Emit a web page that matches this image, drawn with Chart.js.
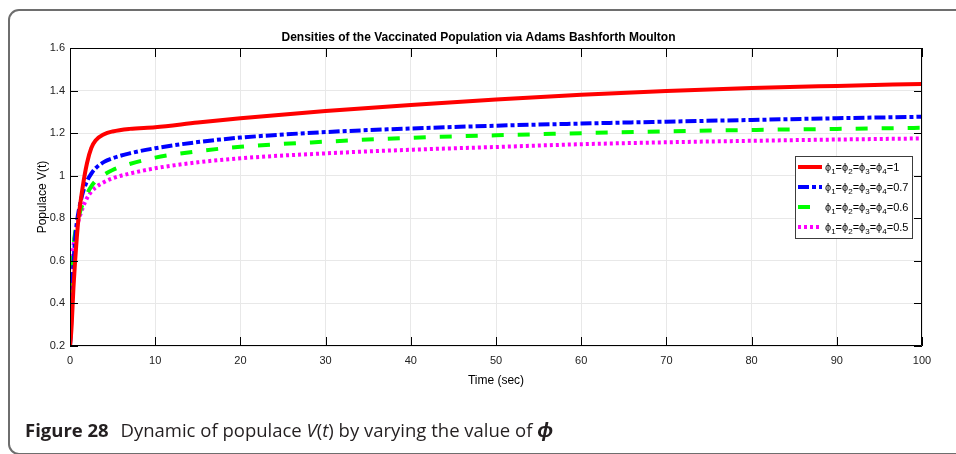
<!DOCTYPE html>
<html>
<head>
<meta charset="utf-8">
<script src="https://cdn.jsdelivr.net/npm/chart.js@4.4.1/dist/chart.umd.min.js"></script>
<style>
  html, body { margin: 0; padding: 0; background: #fff; }
  #page { position: relative; width: 956px; height: 454px; overflow: hidden; }
  #frame {
    position: absolute; left: 8px; top: 9px; width: 1000px; height: 446px;
    border: 2px solid #6e6e6e; border-radius: 11px; box-sizing: border-box;
  }
  #chart { position: absolute; left: 0; top: 0; }
  #caption {
    position: absolute; left: 25px; top: 415px; white-space: nowrap;
    font-family: "Open Sans", sans-serif; font-size: 18.5px; color: #231f20;
  }
  #caption b { font-weight: 700; margin-right: 7px; }
  #caption i { font-style: italic; }
  #caption .phi { font-style: italic; font-weight: 700; font-size: 21px; }
</style>
</head>
<body>
<div id="page">
  <div id="frame"></div>
  <canvas id="chart" width="956" height="454"></canvas>
  <div id="caption"><b>Figure 28</b> Dynamic of populace <i>V</i>(<i>t</i>) by varying the value of <span class="phi">ϕ</span></div>
</div>
<script>
// Time points (sec)
const timeSec = [0, 0.1, 0.2, 0.4, 0.6, 0.8, 1, 1.5, 2, 2.5, 3, 4, 5, 7, 10, 15, 20, 30, 40, 50, 60, 70, 80, 90, 100];

// V(t) for each phi value
const vPhi1  = [0.2, 0.24, 0.3, 0.47, 0.6, 0.71, 0.8, 0.95, 1.06, 1.13, 1.165, 1.195, 1.208, 1.22, 1.228, 1.25, 1.27, 1.304, 1.332, 1.358, 1.38, 1.398, 1.412, 1.422, 1.431];
const vPhi07 = [0.2, 0.27, 0.39, 0.58, 0.7, 0.78, 0.83, 0.92, 0.975, 1.01, 1.035, 1.065, 1.082, 1.105, 1.129, 1.158, 1.179, 1.205, 1.222, 1.235, 1.245, 1.254, 1.262, 1.27, 1.277];
const vPhi06 = [0.2, 0.36, 0.5, 0.66, 0.73, 0.77, 0.805, 0.87, 0.915, 0.95, 0.975, 1.005, 1.027, 1.055, 1.085, 1.115, 1.136, 1.16, 1.178, 1.19, 1.2, 1.208, 1.215, 1.22, 1.225];
const vPhi05 = [0.25, 0.55, 0.6, 0.667, 0.72, 0.76, 0.79, 0.85, 0.895, 0.925, 0.945, 0.97, 0.988, 1.01, 1.035, 1.063, 1.082, 1.105, 1.122, 1.135, 1.148, 1.157, 1.164, 1.17, 1.175];

const phiValues = ['1', '0.7', '0.6', '0.5'];
const xTicks = [0, 10, 20, 30, 40, 50, 60, 70, 80, 90, 100];
const yTicks = [0.2, 0.4, 0.6, 0.8, 1, 1.2, 1.4, 1.6];

function toPoints(vals) {
    return vals.map((v, i) => ({ x: timeSec[i], y: v }));
}

// MATLAB style: box on, ticks pointing inward on all four sides
const boxTicks = {
    id: 'boxTicks',
    afterDraw(chart) {
        const { ctx, chartArea: a, scales } = chart;
        ctx.save();
        ctx.strokeStyle = '#000';
        ctx.lineWidth = 1;
        ctx.beginPath();
        ctx.rect(a.left + 0.5, a.top + 0.5, a.right - a.left - 1, a.bottom - a.top - 1);
        xTicks.forEach(t => {
            const x = Math.round(scales.x.getPixelForValue(t)) + 0.5;
            ctx.moveTo(x, a.bottom); ctx.lineTo(x, a.bottom - 9);
            ctx.moveTo(x, a.top); ctx.lineTo(x, a.top + 9);
        });
        yTicks.forEach(t => {
            const y = Math.round(scales.y.getPixelForValue(t)) + 0.5;
            ctx.moveTo(a.left, y); ctx.lineTo(a.left + 8, y);
            ctx.moveTo(a.right, y); ctx.lineTo(a.right - 8, y);
        });
        ctx.stroke();
        ctx.restore();
    }
};

// legend box inside the axes, like MATLAB 'east'
const insideLegend = {
    id: 'insideLegend',
    afterDraw(chart) {
        const { ctx, chartArea: a } = chart;
        const w = 117, h = 82;
        const left = a.right - 10 - w, top = 156;
        ctx.save();
        ctx.fillStyle = '#fff';
        ctx.fillRect(left, top, w, h);
        ctx.strokeStyle = '#3c3c3c';
        ctx.lineWidth = 1;
        ctx.strokeRect(left + 0.5, top + 0.5, w, h);
        chart.data.datasets.forEach((ds, i) => {
            const y = top + 11 + i * 20;
            ctx.beginPath();
            ctx.strokeStyle = ds.borderColor;
            ctx.lineWidth = ds.borderWidth;
            ctx.setLineDash(ds.borderDash || []);
            ctx.moveTo(left + 3, y);
            ctx.lineTo(left + 27, y);
            ctx.stroke();
            ctx.setLineDash([]);
            // label: phi_1=phi_2=phi_3=phi_4=value
            let x = left + 30;
            ctx.fillStyle = '#000';
            ctx.textBaseline = 'alphabetic';
            for (let k = 1; k <= 4; k++) {
                ctx.font = '11px "Liberation Sans", Arial, sans-serif';
                ctx.fillText('ϕ', x, y + 4);
                x += ctx.measureText('ϕ').width;
                ctx.font = '8px "Liberation Sans", Arial, sans-serif';
                ctx.fillText(String(k), x, y + 7);
                x += ctx.measureText(String(k)).width;
                ctx.font = '11px "Liberation Sans", Arial, sans-serif';
                ctx.fillText('=', x, y + 4);
                x += ctx.measureText('=').width;
            }
            ctx.fillText(phiValues[i], x, y + 4);
        });
        ctx.restore();
    }
};

const ctx = document.getElementById('chart').getContext('2d');
new Chart(ctx, {
    type: 'line',
    data: {
        datasets: [
            { label: 'phi=1', data: toPoints(vPhi1), borderColor: '#ff0000', borderWidth: 4 },
            { label: 'phi=0.7', data: toPoints(vPhi07), borderColor: '#0000ff', borderWidth: 4, borderDash: [11, 3, 4, 3] },
            { label: 'phi=0.6', data: toPoints(vPhi06), borderColor: '#00ff00', borderWidth: 4, borderDash: [12, 14] },
            { label: 'phi=0.5', data: toPoints(vPhi05), borderColor: '#ff00ff', borderWidth: 4, borderDash: [3, 3] }
        ]
    },
    options: {
        responsive: false,
        animation: false,
        elements: {
            point: { radius: 0 },
            line: { cubicInterpolationMode: 'monotone', fill: false }
        },
        layout: { padding: { left: 35, right: 34, top: 0, bottom: 66 } },
        plugins: {
            legend: { display: false },
            tooltip: { enabled: false },
            title: {
                display: true,
                text: 'Densities of the Vaccinated Population via Adams Bashforth Moulton',
                color: '#000',
                font: { family: '"Liberation Sans", Arial, sans-serif', size: 12, weight: 'bold' },
                padding: { top: 30, bottom: 3.6 }
            }
        },
        scales: {
            x: {
                type: 'linear',
                min: 0,
                max: 100,
                afterBuildTicks: s => { s.ticks = xTicks.map(v => ({ value: v })); },
                afterFit: s => { s.height = 42; },
                grid: { color: '#e8e8e8', drawTicks: false },
                border: { display: false },
                ticks: {
                    color: '#222',
                    padding: 8,
                    maxRotation: 0,
                    callback: v => String(v),
                    font: { family: '"Liberation Sans Narrow", "Liberation Sans", Arial, sans-serif', size: 11 }
                },
                title: {
                    display: true,
                    text: 'Time (sec)',
                    color: '#000',
                    padding: 0,
                    font: { family: '"Liberation Sans Narrow", "Liberation Sans", Arial, sans-serif', size: 12 }
                }
            },
            y: {
                type: 'linear',
                min: 0.2,
                max: 1.6,
                afterBuildTicks: s => { s.ticks = yTicks.map(v => ({ value: v })); },
                afterFit: s => { s.width = 35; },
                grid: { color: '#e8e8e8', drawTicks: false },
                border: { display: false },
                ticks: {
                    color: '#222',
                    padding: 5,
                    callback: v => String(+v.toFixed(1)),
                    font: { family: '"Liberation Sans", Arial, sans-serif', size: 11 }
                },
                title: {
                    display: true,
                    text: 'Populace V(t)',
                    color: '#000',
                    padding: 0,
                    font: { family: '"Liberation Sans", Arial, sans-serif', size: 12 }
                }
            }
        }
    },
    plugins: [boxTicks, insideLegend]
});
</script>
</body>
</html>
